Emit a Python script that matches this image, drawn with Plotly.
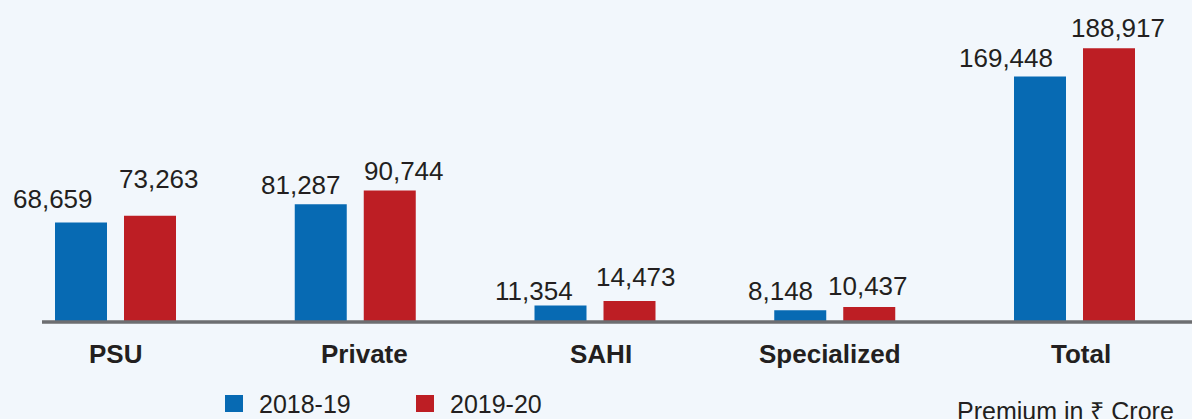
import plotly.graph_objects as go

categories = ["PSU", "Private", "SAHI", "Specialized", "Total"]
series_names = ["2018-19", "2019-20"]
values_2018_19 = [68659, 81287, 11354, 8148, 169448]
values_2019_20 = [73263, 90744, 14473, 10437, 188917]
unit_note = "Premium in ₹ Crore"

BLUE = "#076ab3"
RED = "#bd1e24"
BG = "#f2f7fc"
TXT = "#231f20"
FONT = "Liberation Sans, Arial, Helvetica, sans-serif"

W, H = 1192, 419
BASE = 322          # pixel row of the zero line
EXTRA = 4           # plot area extends a few px below zero so the axis line isn't clipped
PLOT_H = BASE + EXTRA
SCALE = 0.0014488   # px per unit
cat_px = 239.75
bar_w = 52 / cat_px
gap = 17 / cat_px


def py(pix):
    """pixel row -> paper y"""
    return (PLOT_H - pix) / PLOT_H


fig = go.Figure()
fig.add_trace(go.Bar(x=categories, y=values_2018_19, name=series_names[0],
                     marker=dict(color=BLUE, line=dict(width=0)),
                     width=bar_w, offset=-(bar_w + gap / 2), showlegend=False))
fig.add_trace(go.Bar(x=categories, y=values_2019_20, name=series_names[1],
                     marker=dict(color=RED, line=dict(width=0)),
                     width=bar_w, offset=gap / 2, showlegend=False))

# value labels
LBL = 26
desc = 1 + 0.212 * LBL
xs_blue = [-63, -54.5, -61.5, -54, -68.5]
xs_red = [43.5, 48.5, 40.5, 33, 43]
ys_blue = [7, 2, -2, 2, 2]
ys_red = [20, 2.5, 7.5, 4, 3.5]
for i, c in enumerate(categories):
    for v, xs, ys in ((values_2018_19[i], xs_blue[i], ys_blue[i]),
                      (values_2019_20[i], xs_red[i], ys_red[i])):
        fig.add_annotation(x=c, y=v, xref="x", yref="y", text=f"{v:,}",
                           showarrow=False, xanchor="center", yanchor="bottom",
                           xshift=xs, yshift=ys + 6.3 - desc,
                           font=dict(family=FONT, size=LBL, color=TXT))

# category labels
CAT = 26
cat_shift = [0, 9, 6, -5, 6.5]
for c, s in zip(categories, cat_shift):
    top = 362 - 1 - 0.905 * CAT
    fig.add_annotation(x=c, y=py(top), xref="x", yref="paper",
                       text=f"<b>{c}</b>", showarrow=False, xanchor="center",
                       yanchor="top", xshift=s,
                       font=dict(family=FONT, size=CAT, color=TXT))

# baseline axis line
fig.add_shape(type="line", xref="paper", yref="y", x0=42 / W, x1=1, y0=0, y1=0,
              line=dict(color="#6d6e71", width=3.5), layer="above")

# legend (manual)
LEG = 25
leg = [(225, 258, BLUE, series_names[0]), (416, 449, RED, series_names[1])]
for sx, tx, col, name in leg:
    fig.add_shape(type="rect", xref="paper", yref="paper",
                  x0=sx / W, x1=(sx + 18) / W,
                  y0=py(412), y1=py(395),
                  fillcolor=col, line=dict(width=0))
    top = 412 - 1 - 0.905 * LEG
    fig.add_annotation(x=(tx - 1) / W, y=py(top), xref="paper",
                       yref="paper", text=name, showarrow=False, xanchor="left",
                       yanchor="top", font=dict(family=FONT, size=LEG, color=TXT))

NOTE = 25
top = 401 - 1 - 0.189 * NOTE
fig.add_annotation(x=(956 - 1) / W, y=py(top), xref="paper",
                   yref="paper", text=unit_note, showarrow=False, xanchor="left",
                   yanchor="top", font=dict(family=FONT, size=NOTE, color=TXT))

fig.update_layout(
    width=W, height=H,
    margin=dict(l=0, r=0, t=0, b=H - PLOT_H, pad=0),
    paper_bgcolor=BG, plot_bgcolor=BG,
    barmode="overlay",
    showlegend=False,
    xaxis=dict(range=[-115.5 / cat_px, -115.5 / cat_px + W / cat_px],
               showticklabels=False, showgrid=False, zeroline=False,
               showline=False, ticks=""),
    yaxis=dict(range=[-EXTRA / SCALE, BASE / SCALE], showticklabels=False,
               showgrid=False, zeroline=False, showline=False, ticks=""),
)

fig.write_html("out.html", config={"displayModeBar": False},
               post_script="document.body.style.margin='0';"
                           "document.body.style.overflow='hidden';"
                           "document.body.style.background='" + BG + "';")
